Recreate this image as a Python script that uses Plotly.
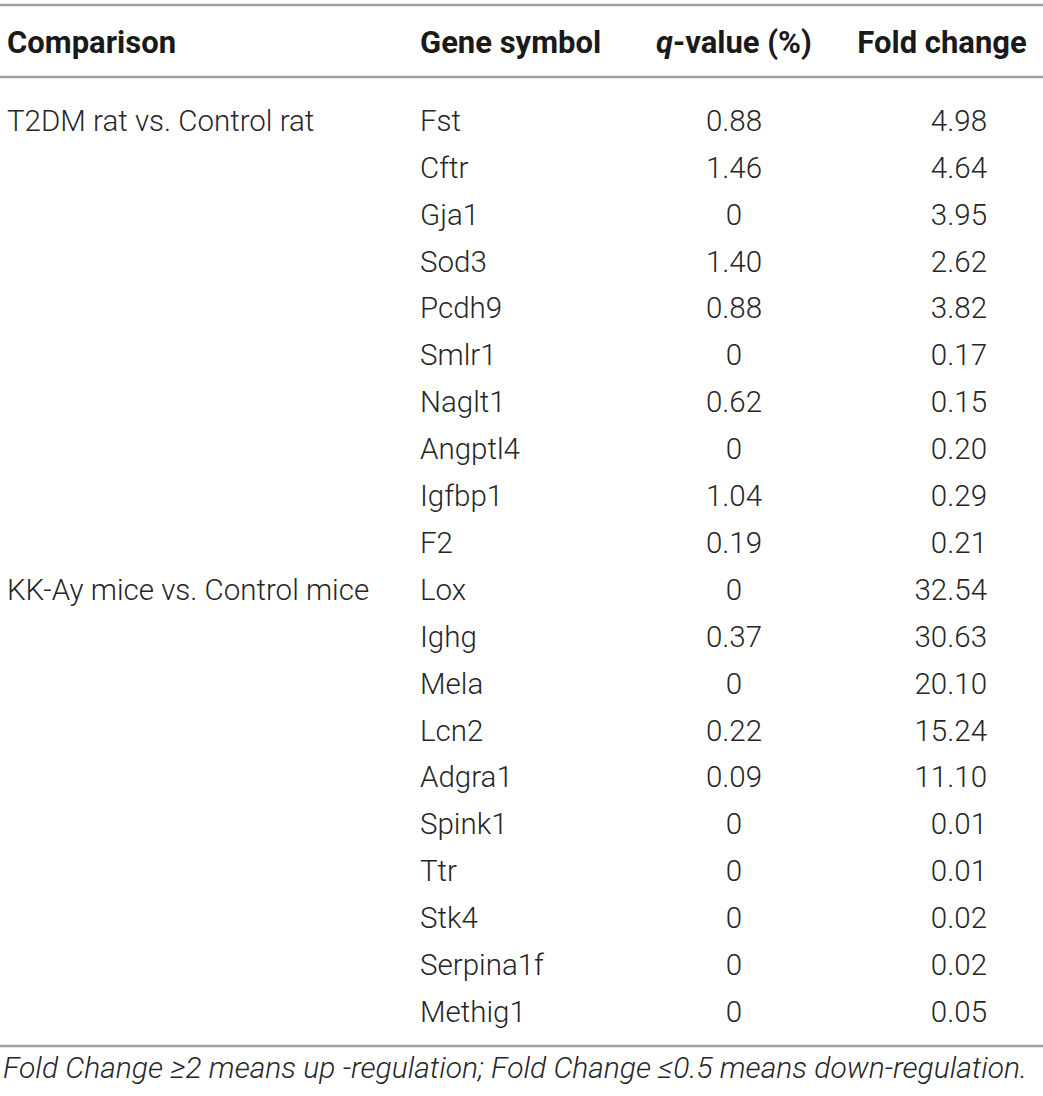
import plotly.graph_objects as go

COMPARISONS = ['T2DM rat vs. Control rat', 'KK-Ay mice vs. Control mice']
GROUP_SIZE = 10
GENES = ['Fst', 'Cftr', 'Gja1', 'Sod3', 'Pcdh9', 'Smlr1', 'Naglt1', 'Angptl4', 'Igfbp1', 'F2',
         'Lox', 'Ighg', 'Mela', 'Lcn2', 'Adgra1', 'Spink1', 'Ttr', 'Stk4', 'Serpina1f', 'Methig1']
QVALUES = ['0.88', '1.46', '0', '1.40', '0.88', '0', '0.62', '0', '1.04', '0.19',
           '0', '0.37', '0', '0.22', '0.09', '0', '0', '0', '0', '0']
FOLD_CHANGES = ['4.98', '4.64', '3.95', '2.62', '3.82', '0.17', '0.15', '0.20', '0.29', '0.21',
                '32.54', '30.63', '20.10', '15.24', '11.10', '0.01', '0.01', '0.02', '0.02', '0.05']
HEADERS = ['Comparison', 'Gene symbol', '<i>q</i>-value (%)', 'Fold change']
FOOTNOTE = 'Fold Change \u22652 means up -regulation; Fold Change \u22640.5 means down-regulation.'

W, H = 1043, 1096
ROW0, ROWH = 123.5, 46.9
HEAD_Y = 45
COL_X = [7, 420, 734, 987]
RULES_Y = [5, 77, 1046]
TXT = '#262626'
BODY = dict(family='Roboto', size=29.5, color=TXT, weight=300)
HEAD = dict(family='Roboto', size=31, color='#1a1a1a', weight=700)
FOOT = dict(family='Roboto', size=30, color=TXT, weight=300)

rows_y = [ROW0 + i * ROWH for i in range(len(GENES))]
comp_y = [rows_y[i * GROUP_SIZE] for i in range(len(COMPARISONS))]

fig = go.Figure()
# horizontal rules of the table
for yy in RULES_Y:
    fig.add_hline(y=yy, line=dict(color='#a0a0a0', width=2.5), layer='above')
# header
fig.add_trace(go.Scatter(x=COL_X[:2], y=[HEAD_Y] * 2, text=HEADERS[:2], mode='text',
                         textposition='middle right', textfont=HEAD))
fig.add_trace(go.Scatter(x=[COL_X[2], 942], y=[HEAD_Y] * 2, text=HEADERS[2:], mode='text',
                         textposition='middle center', textfont=HEAD))
# body
fig.add_trace(go.Scatter(x=[COL_X[0]] * len(COMPARISONS), y=comp_y, text=COMPARISONS, mode='text',
                         textposition='middle right', textfont=BODY))
fig.add_trace(go.Scatter(x=[COL_X[1]] * len(GENES), y=rows_y, text=GENES, mode='text',
                         textposition='middle right', textfont=BODY))
fig.add_trace(go.Scatter(x=[COL_X[2]] * len(QVALUES), y=rows_y, text=QVALUES, mode='text',
                         textposition='middle center', textfont=BODY))
fig.add_trace(go.Scatter(x=[COL_X[3]] * len(FOLD_CHANGES), y=rows_y, text=FOLD_CHANGES, mode='text',
                         textposition='middle left', textfont=BODY))
# footnote, a bit lower so that the closing rule sits clear above it
fig.add_trace(go.Scatter(x=[3], y=[1070], text=['<i>' + FOOTNOTE + '</i>'], mode='text',
                         textposition='middle right', textfont=FOOT))

fig.update_layout(
    width=W, height=H, margin=dict(l=0, r=0, t=0, b=0),
    paper_bgcolor='white', plot_bgcolor='white', showlegend=False,
    xaxis=dict(range=[0, W], visible=False, fixedrange=True),
    yaxis=dict(range=[H, 0], visible=False, fixedrange=True),
)
fig.write_html("out.html", config={'displayModeBar': False},
               post_script="document.body.style.margin='0';")
